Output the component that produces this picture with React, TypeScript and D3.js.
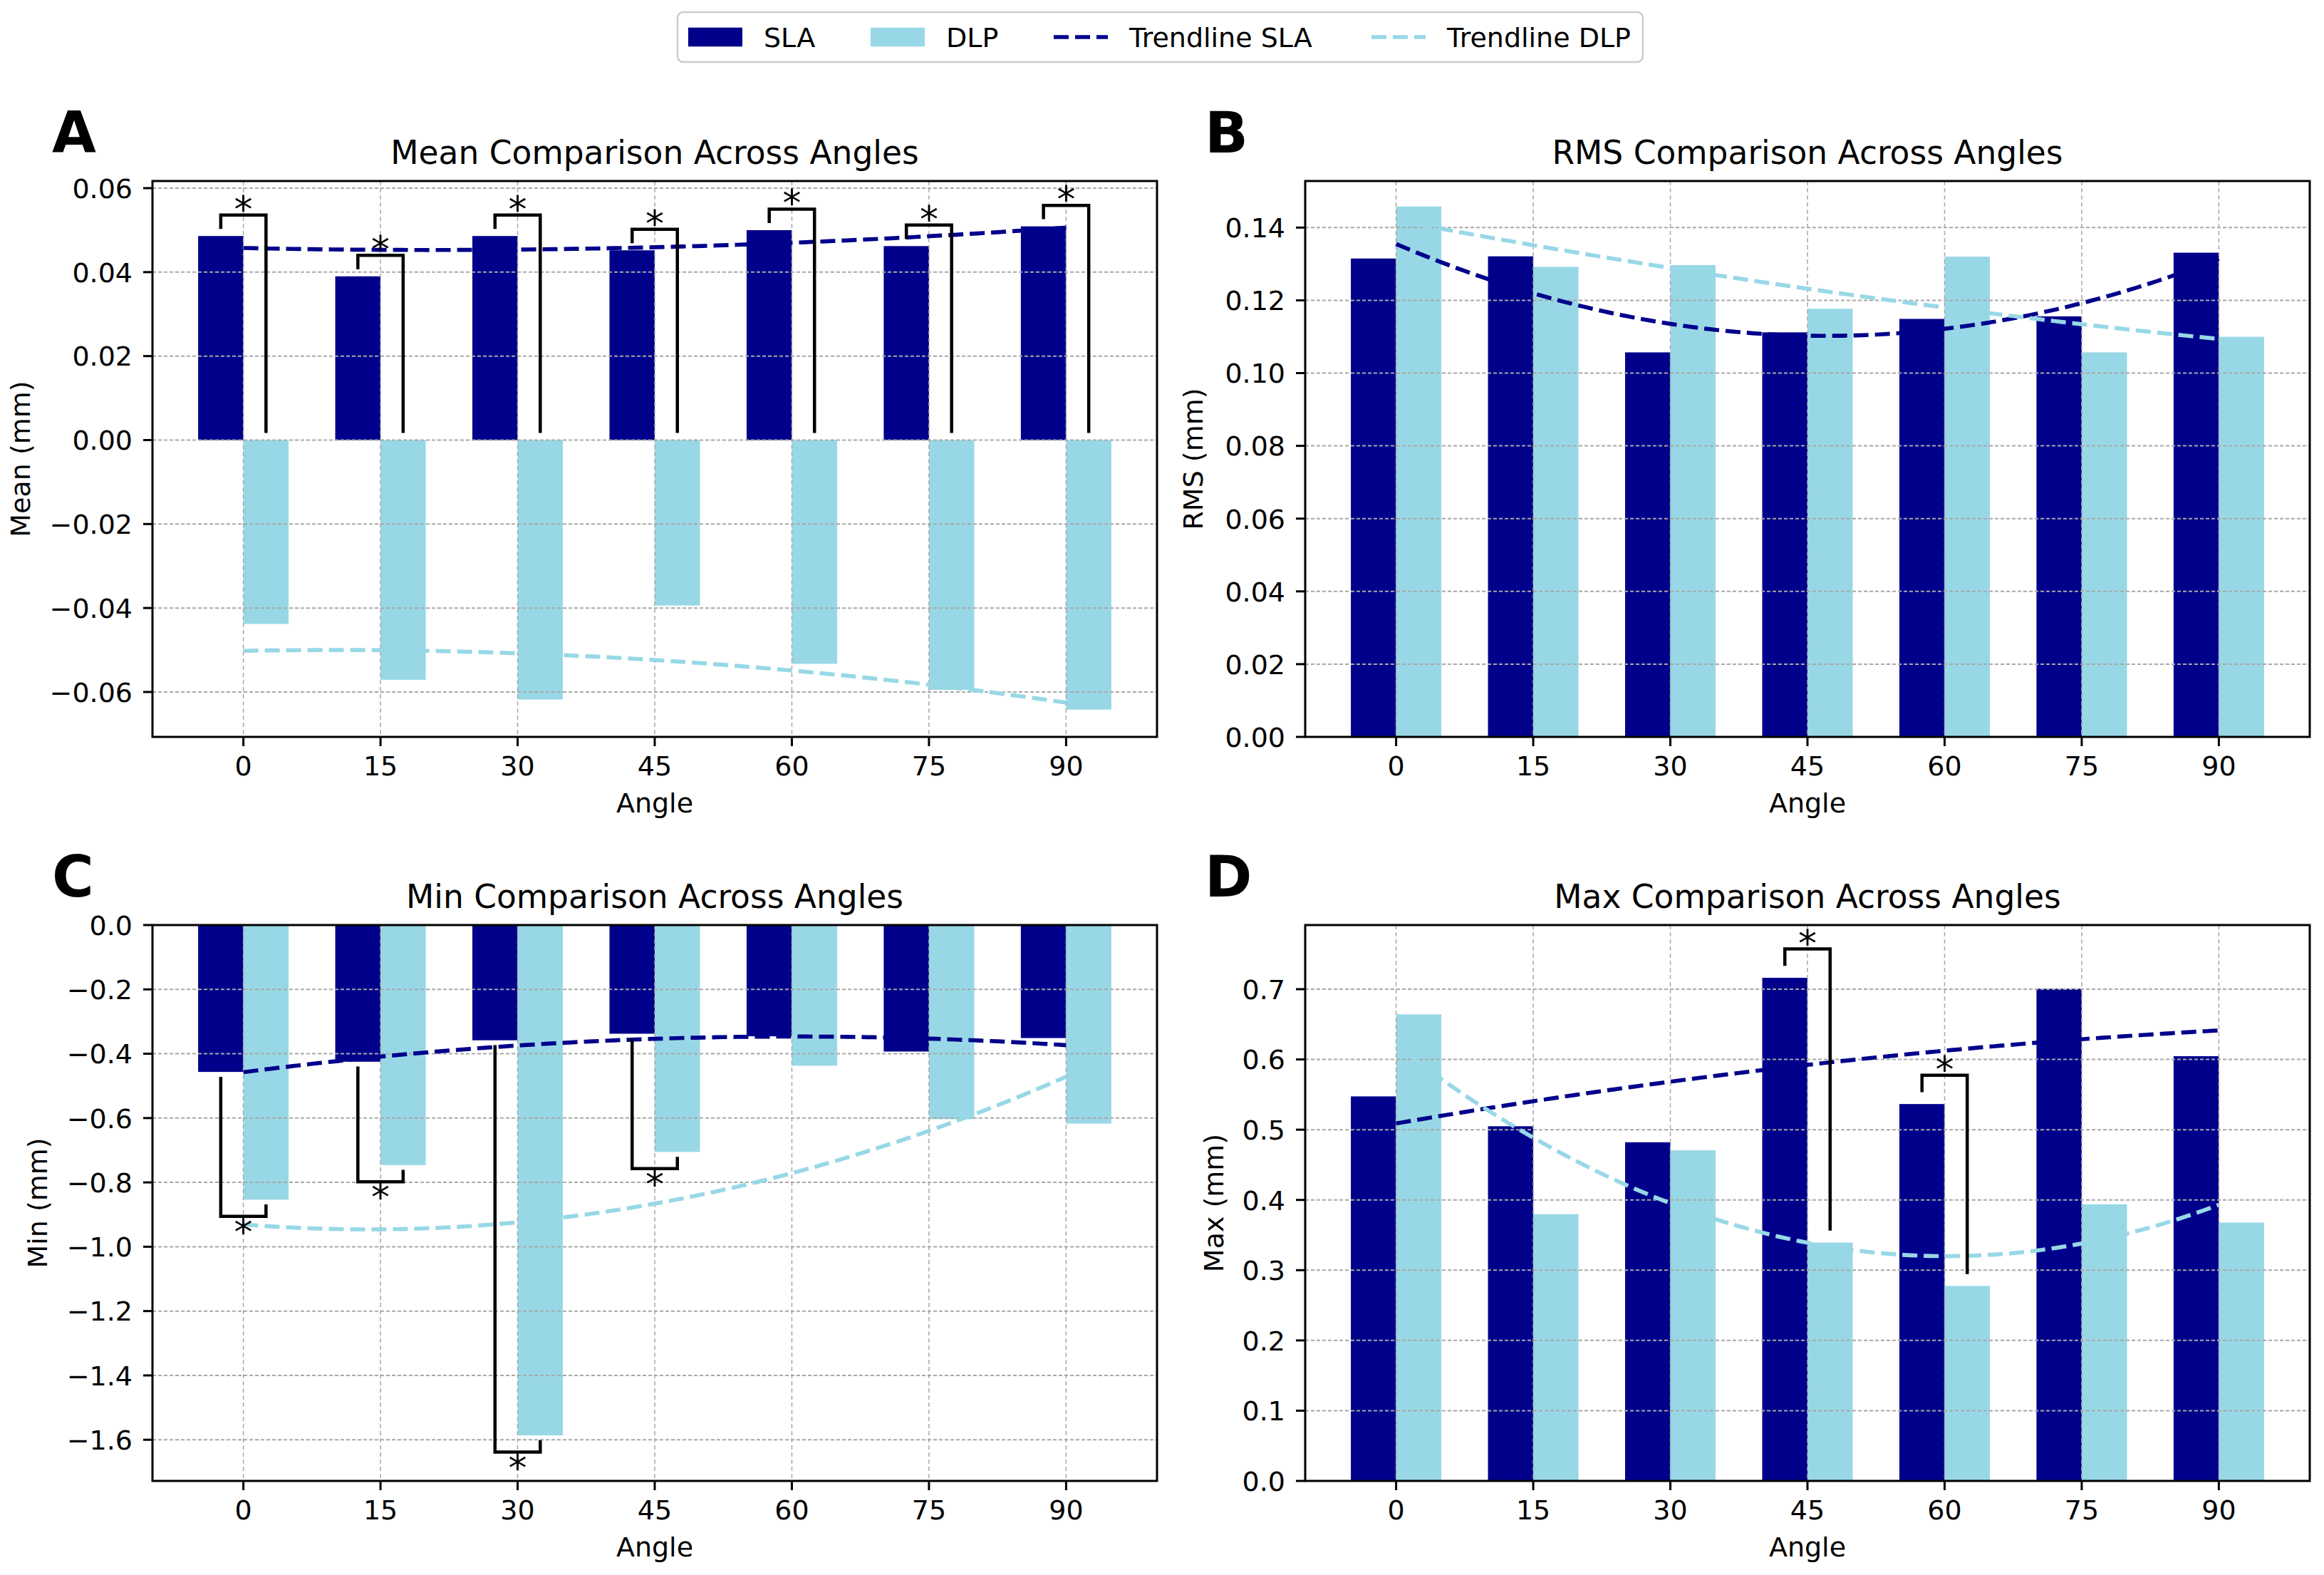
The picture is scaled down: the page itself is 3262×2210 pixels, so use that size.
import React from 'react';
import * as d3 from 'd3';

// ---- data ----
const angles = ['0', '15', '30', '45', '60', '75', '90'];

const meanSLA = [0.0486, 0.039, 0.0486, 0.0452, 0.05, 0.0462, 0.0509];
const meanDLP = [-0.0438, -0.0571, -0.0618, -0.0394, -0.0533, -0.0595, -0.0642];

const rmsSLA = [0.1315, 0.1321, 0.1057, 0.1112, 0.1149, 0.1156, 0.1331];
const rmsDLP = [0.1458, 0.1292, 0.1297, 0.1177, 0.132, 0.1057, 0.11];

const minSLA = [-0.4566, -0.4249, -0.3582, -0.3378, -0.3458, -0.3932, -0.3513];
const minDLP = [-0.8536, -0.7461, -1.5864, -0.7053, -0.4373, -0.6036, -0.6171];

const maxSLA = [0.5474, 0.5049, 0.4821, 0.7162, 0.5365, 0.7007, 0.6046];
const maxDLP = [0.6642, 0.3798, 0.4706, 0.3393, 0.2775, 0.3938, 0.3678];

// significant pairs (angle labels)
const sigMean = ['0', '15', '30', '45', '60', '75', '90'];
const sigRms: string[] = [];
const sigMin = ['0', '15', '30', '45'];
const sigMax = ['45', '60'];

const meanTicks = [-0.06, -0.04, -0.02, 0, 0.02, 0.04, 0.06];
const rmsTicks = [0, 0.02, 0.04, 0.06, 0.08, 0.1, 0.12, 0.14];
const minTicks = [-1.6, -1.4, -1.2, -1.0, -0.8, -0.6, -0.4, -0.2, 0];
const maxTicks = [0, 0.1, 0.2, 0.3, 0.4, 0.5, 0.6, 0.7];

const legendLabels = ['SLA', 'DLP', 'Trendline SLA', 'Trendline DLP'];

// ---- styling ----
const SLA_COLOR = '#00008B';
const DLP_COLOR = '#98D8E6';
const FONT = '"DejaVu Sans", sans-serif';
const BAR_W = 0.33;
const X_DOMAIN: [number, number] = [-0.663, 6.663];

// quadratic least squares fit, like numpy.polyfit(x, y, 2)
function polyfit2(xs: number[], ys: number[]) {
  const s = [0, 0, 0, 0, 0];
  const t = [0, 0, 0];
  xs.forEach((x, i) => {
    for (let k = 0; k < 5; k++) s[k] += Math.pow(x, k);
    for (let k = 0; k < 3; k++) t[k] += Math.pow(x, k) * ys[i];
  });
  const A = [
    [s[0], s[1], s[2], t[0]],
    [s[1], s[2], s[3], t[1]],
    [s[2], s[3], s[4], t[2]],
  ];
  for (let c = 0; c < 3; c++) {
    for (let r = c + 1; r < 3; r++) {
      const f = A[r][c] / A[c][c];
      for (let k = c; k < 4; k++) A[r][k] -= f * A[c][k];
    }
  }
  const coef = [0, 0, 0];
  for (let r = 2; r >= 0; r--) {
    let v = A[r][3];
    for (let k = r + 1; k < 3; k++) v -= A[r][k] * coef[k];
    coef[r] = v / A[r][r];
  }
  return (x: number) => coef[0] + coef[1] * x + coef[2] * x * x;
}

interface PanelProps {
  letter: string;
  title: string;
  ylabel: string;
  ylabelX: number;
  frame: { left: number; top: number; width: number; height: number };
  sla: number[];
  dlp: number[];
  yDomain: [number, number];
  yTicks: number[];
  fmt: string;
  sig: string[];
  dir: 'up' | 'down';
  gap: number;
  h: number;
}

function Panel(p: PanelProps) {
  const { left, top, width, height } = p.frame;
  const bottom = top + height;
  const right = left + width;
  const x = d3.scaleLinear().domain(X_DOMAIN).range([left, right]);
  const y = d3.scaleLinear().domain(p.yDomain).range([bottom, top]);
  const fmt = d3.format(p.fmt);
  const idx = angles.map((_, i) => i);
  const fitS = polyfit2(idx, p.sla);
  const fitD = polyfit2(idx, p.dlp);
  const samples = d3.range(0, angles.length - 1 + 1e-9, 0.05);
  const lineS = d3.line<number>().x(t => x(t)).y(t => y(fitS(t)));
  const lineD = d3.line<number>().x(t => x(t)).y(t => y(fitD(t)));

  const brackets = p.sig.map(a => {
    const i = angles.indexOf(a);
    const x1 = x(i - BAR_W / 2);
    const x2 = x(i + BAR_W / 2);
    let t1: number, t2: number, yb: number;
    if (p.dir === 'up') {
      t1 = Math.max(p.sla[i], 0) + p.gap;
      t2 = Math.max(p.dlp[i], 0) + p.gap;
      yb = Math.max(p.sla[i], p.dlp[i], 0) + p.gap + p.h;
    } else {
      t1 = Math.min(p.sla[i], 0) - p.gap;
      t2 = Math.min(p.dlp[i], 0) - p.gap;
      yb = Math.min(p.sla[i], p.dlp[i], 0) - p.gap - p.h;
    }
    return { a, x1, x2, y1: y(t1), y2: y(t2), yb: y(yb) };
  });

  return (
    <g>
      <text x={left - 141} y={top - 40} fontFamily={FONT} fontSize={80} fontWeight="bold">
        {p.letter}
      </text>
      <text x={(left + right) / 2} y={top - 24} textAnchor="middle" fontFamily={FONT} fontSize={45.5}>
        {p.title}
      </text>

      {/* bars */}
      {p.sla.map((v, i) => (
        <rect key={'s' + i} x={x(i - BAR_W)} width={x(BAR_W) - x(0)}
          y={Math.min(y(v), y(0))} height={Math.abs(y(v) - y(0))} fill={SLA_COLOR} />
      ))}
      {p.dlp.map((v, i) => (
        <rect key={'d' + i} x={x(i)} width={x(BAR_W) - x(0)}
          y={Math.min(y(v), y(0))} height={Math.abs(y(v) - y(0))} fill={DLP_COLOR} />
      ))}

      {/* grid, drawn over the bars as in the original */}
      {p.yTicks.map(t => (
        <line key={'gy' + t} x1={left} x2={right} y1={y(t)} y2={y(t)}
          stroke="#a8a8a8" strokeWidth={2} strokeDasharray="5,3" />
      ))}
      {idx.map(i => (
        <line key={'gx' + i} x1={x(i)} x2={x(i)} y1={top} y2={bottom}
          stroke="#a8a8a8" strokeWidth={1.5} strokeDasharray="6,4" />
      ))}

      {/* trendlines */}
      <path d={lineS(samples) || ''} fill="none" stroke={SLA_COLOR} strokeWidth={5.7} strokeDasharray="21,9" />
      <path d={lineD(samples) || ''} fill="none" stroke={DLP_COLOR} strokeWidth={5.7} strokeDasharray="21,9" />

      {/* significance brackets */}
      {brackets.map(b => (
        <g key={'b' + b.a}>
          <path d={`M${b.x1},${b.y1}V${b.yb}H${b.x2}V${b.y2}`} fill="none" stroke="#000" strokeWidth={4.5} />
          <text x={(b.x1 + b.x2) / 2} y={p.dir === 'up' ? b.yb + 10 : b.yb + 40}
            textAnchor="middle" fontFamily={FONT} fontSize={52}>*</text>
        </g>
      ))}

      {/* frame */}
      <rect x={left} y={top} width={width} height={height} fill="none" stroke="#000" strokeWidth={3} />

      {/* y axis */}
      {p.yTicks.map(t => (
        <g key={'ty' + t}>
          <line x1={left - 13} x2={left} y1={y(t)} y2={y(t)} stroke="#000" strokeWidth={3} />
          <text x={left - 28} y={y(t) + 13.8} textAnchor="end" fontFamily={FONT} fontSize={38}>
            {fmt(t)}
          </text>
        </g>
      ))}
      {/* x axis */}
      {angles.map((a, i) => (
        <g key={'tx' + a}>
          <line x1={x(i)} x2={x(i)} y1={bottom} y2={bottom + 13} stroke="#000" strokeWidth={3} />
          <text x={x(i)} y={bottom + 54} textAnchor="middle" fontFamily={FONT} fontSize={38}>{a}</text>
        </g>
      ))}
      <text x={(left + right) / 2} y={bottom + 106} textAnchor="middle" fontFamily={FONT} fontSize={38}>
        Angle
      </text>
      <text transform={`translate(${p.ylabelX},${(top + bottom) / 2}) rotate(-90)`}
        textAnchor="middle" fontFamily={FONT} fontSize={38}>
        {p.ylabel}
      </text>
    </g>
  );
}

function Legend() {
  const cy = 52;
  const items = [
    { kind: 'bar', color: SLA_COLOR, x: 966 },
    { kind: 'bar', color: DLP_COLOR, x: 1222 },
    { kind: 'line', color: SLA_COLOR, x: 1479 },
    { kind: 'line', color: DLP_COLOR, x: 1925 },
  ];
  return (
    <g>
      <rect x={951} y={17} width={1355} height={70} rx={8} fill="#fff" stroke="#cccccc" strokeWidth={2.5} />
      {items.map((it, i) => (
        <g key={legendLabels[i]}>
          {it.kind === 'bar' ? (
            <rect x={it.x} y={cy - 13.3} width={76} height={26.6} fill={it.color} />
          ) : (
            <line x1={it.x} x2={it.x + 76} y1={cy} y2={cy} stroke={it.color} strokeWidth={5.7} strokeDasharray="21,9" />
          )}
          <text x={it.x + 106} y={cy + 13.8} fontFamily={FONT} fontSize={38}>{legendLabels[i]}</text>
        </g>
      ))}
    </g>
  );
}

export default function App() {
  const W = 3262;
  const H = 2210;
  const colL = 214;
  const colR = 1832;
  const rowT = 254;
  const rowB = 1298;
  const pw = 1410;
  const ph = 780;
  return (
    <svg width={W} height={H} viewBox={`0 0 ${W} ${H}`}
      style={{ position: 'absolute', left: 0, top: 0, background: '#fff' }}>
      <rect width={W} height={H} fill="#fff" />
      <Legend />
      <Panel letter="A" title="Mean Comparison Across Angles" ylabel="Mean (mm)" ylabelX={42}
        frame={{ left: colL, top: rowT, width: pw, height: ph }}
        sla={meanSLA} dlp={meanDLP} yDomain={[-0.0707, 0.0617]} yTicks={meanTicks} fmt=".2f"
        sig={sigMean} dir="up" gap={0.0017} h={0.0033} />
      <Panel letter="B" title="RMS Comparison Across Angles" ylabel="RMS (mm)" ylabelX={1688}
        frame={{ left: colR, top: rowT, width: pw, height: ph }}
        sla={rmsSLA} dlp={rmsDLP} yDomain={[0, 0.1528]} yTicks={rmsTicks} fmt=".2f"
        sig={sigRms} dir="up" gap={0.002} h={0.004} />
      <Panel letter="C" title="Min Comparison Across Angles" ylabel="Min (mm)" ylabelX={66}
        frame={{ left: colL, top: rowB, width: pw, height: ph }}
        sla={minSLA} dlp={minDLP} yDomain={[-1.728, 0]} yTicks={minTicks} fmt=".1f"
        sig={sigMin} dir="down" gap={0.015} h={0.037} />
      <Panel letter="D" title="Max Comparison Across Angles" ylabel="Max (mm)" ylabelX={1717}
        frame={{ left: colR, top: rowB, width: pw, height: ph }}
        sla={maxSLA} dlp={maxDLP} yDomain={[0, 0.7913]} yTicks={maxTicks} fmt=".1f"
        sig={sigMax} dir="up" gap={0.017} h={0.024} />
    </svg>
  );
}
